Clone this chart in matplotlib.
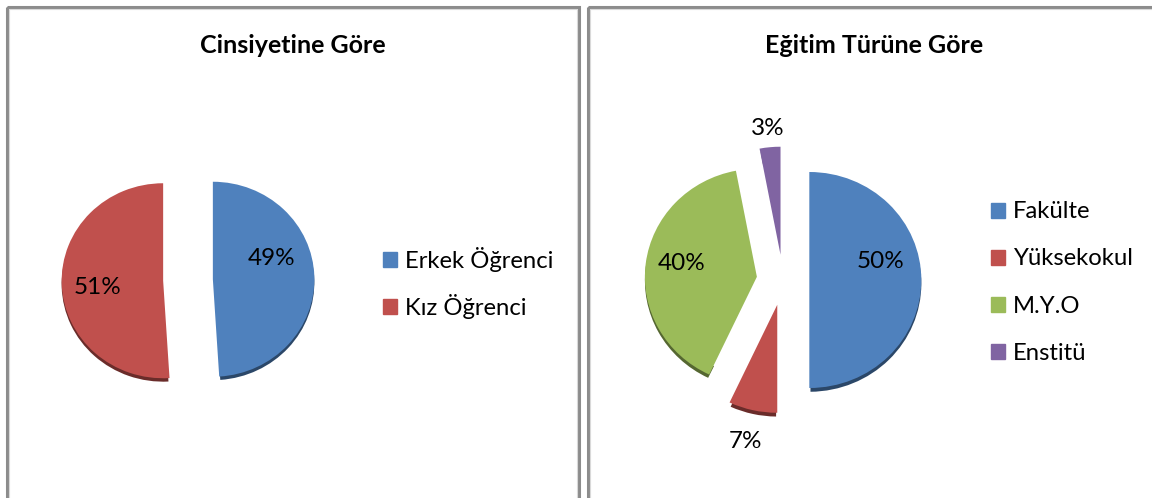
import matplotlib.pyplot as plt
import numpy as np
from matplotlib.colors import to_rgb
from matplotlib.patches import Patch, Rectangle, Wedge

# --- data ---
gender_labels = ["Erkek Öğrenci", "Kız Öğrenci"]
gender_values = [49, 51]

edu_labels = ["Fakülte", "Yüksekokul", "M.Y.O", "Enstitü"]
edu_values = [50, 7, 40, 3]

colors = ["#4F81BD", "#C0504D", "#9BBB59", "#8064A2"]

W, H = 1152, 498
plt.rcParams['font.family'] = ['Lato', 'DejaVu Sans']

fig = plt.figure(figsize=(W / 100, H / 100), dpi=100)

# background axes in pixel units, for frames and titles
bg = fig.add_axes([0, 0, 1, 1])
bg.set_xlim(0, W)
bg.set_ylim(H, 0)
bg.axis('off')
for x0, x1 in [(7, 579), (588, 1160)]:
    bg.add_patch(Rectangle((x0, 7), x1 - x0, 500, fill=False, ec="#8c8c8c", lw=2.2))
    bg.add_patch(Rectangle((x0 + 2, 9), x1 - x0 - 4, 500, fill=False, ec="#d9d9d9", lw=0.8))
bg.text(293, 45, "Cinsiyetine Göre", ha='center', va='center', fontsize=18, fontweight='bold')
bg.text(874, 45, "Eğitim Türüne Göre", ha='center', va='center', fontsize=18, fontweight='bold')


def draw_pie(cx, cy, rx, ry, values, explode, label_dist, label_dy):
    # slightly flattened pie (the original is a tilted 3D pie)
    ax = fig.add_axes([(cx - 1.5 * rx) / W, (H - cy - 1.5 * ry) / H, 3 * rx / W, 3 * ry / H])
    wedges, _ = ax.pie(values, colors=colors[:len(values)], startangle=90, counterclock=False,
                       explode=[explode] * len(values), wedgeprops=dict(linewidth=0))
    # dark rim under each slice (3D side wall)
    for w in wedges:
        dark = tuple(0.55 * c for c in to_rgb(w.get_facecolor()))
        ax.add_patch(Wedge((w.center[0], w.center[1] - 0.035), w.r, w.theta1 + 0.6, w.theta2 - 0.6,
                           width=0.12, fc=dark, ec='none', zorder=w.get_zorder() - 0.5))
    ax.set_xlim(-1.5, 1.5)
    ax.set_ylim(-1.5, 1.5)
    ax.set_aspect('auto')
    ax.axis('off')
    for w, v, d, dy in zip(wedges, values, label_dist, label_dy):
        mid = np.deg2rad((w.theta1 + w.theta2) / 2)
        x = w.center[0] + d * np.cos(mid)
        y = w.center[1] + d * np.sin(mid) + dy
        ax.text(x, y, f"{v}%", ha='center', va='center', fontsize=17.5, color='black')
    return ax, wedges


ax1, w1 = draw_pie(188, 280, 101.5, 97.5, gender_values, 0.245, [0.58, 0.65], [0.19, -0.05])
ax2, w2 = draw_pie(783, 280, 112, 108, edu_values, 0.235, [0.64, 1.3, 0.68, 1.17], [0.17, 0.0, 0.04, 0.0])

legend_kw = dict(loc='center left', frameon=False, fontsize=17.2, handlelength=0.59,
                 handleheight=0.59, handletextpad=0.33, borderpad=0, borderaxespad=0)
fig.legend(handles=[Patch(color=c, label=l) for c, l in zip(colors, gender_labels)],
           bbox_to_anchor=(383 / W, 1 - 283 / H), labelspacing=0.94, **legend_kw)
fig.legend(handles=[Patch(color=c, label=l) for c, l in zip(colors, edu_labels)],
           bbox_to_anchor=(991 / W, 1 - 282.5 / H), labelspacing=1.09, **legend_kw)

fig.savefig("out.png", dpi=100)
